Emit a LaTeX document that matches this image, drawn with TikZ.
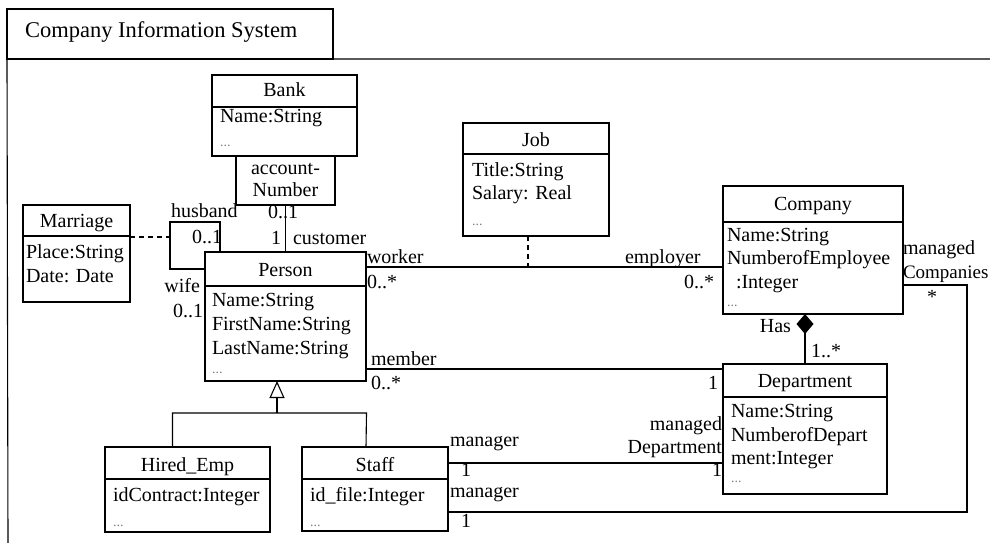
\documentclass[tikz,border=0pt]{standalone}
\usepackage{fontspec}
\setmainfont{Liberation Serif}
\usetikzlibrary{arrows.meta}
\begin{document}
\begin{tikzpicture}[x=1pt,y=-1pt, line width=1.1pt,
  font=\fontsize{20}{24}\selectfont,
  box/.style={draw, anchor=north west, inner sep=0pt, outer sep=0pt},
  txt/.style={inner sep=0pt, outer sep=0pt},
  dots/.style={inner sep=0pt, outer sep=0pt, text=gray, anchor=base west, font=\fontsize{14}{14}\selectfont},
  qual/.style={dashed, dash pattern=on 5pt off 4pt}]
\useasboundingbox (0,0) rectangle (990,543);

% frame
\node[box, minimum width=326pt, minimum height=50pt] (tab) at (7,9) {};
\node[txt, anchor=mid west, font=\fontsize{22.5}{24}\selectfont] (tabtext) at (25,35) {Company Information System};
\coordinate (frameR) at (990,59);
\coordinate (frameB) at (8,543);
\draw (frameB) -- (tab.south west) -- (frameR);

% Bank
\node[box, minimum width=145pt, minimum height=81pt] (bank) at (212,75) {};
\draw ([yshift=-32pt]bank.north west) -- ([yshift=-32pt]bank.north east);
\node[txt, anchor=mid] (bankT) at (284.5,94) {Bank};
\node[txt, anchor=mid west] (bankA) at (220,120) {Name:String};
\node[dots] (bankD) at (220,146) {...};
\node[box, minimum width=99pt, minimum height=49pt] (acct) at (236,156) {};
\node[txt, anchor=mid] (acct1) at (285.5,172) {account-};
\node[txt, anchor=mid] (acct2) at (285.5,194) {Number};

% Marriage
\node[box, minimum width=107pt, minimum height=97pt] (marriage) at (23,205) {};
\draw ([yshift=-31pt]marriage.north west) -- ([yshift=-31pt]marriage.north east);
\node[txt, anchor=mid] (marT) at (76.5,225) {Marriage};
\node[txt, anchor=mid west] (marA1) at (26,256) {Place:String};
\node[txt, anchor=mid west] (marA2) at (26,280) {Date: Date};

% Job
\node[box, minimum width=146pt, minimum height=113pt] (job) at (463,123) {};
\draw ([yshift=-31pt]job.north west) -- ([yshift=-31pt]job.north east);
\node[txt, anchor=mid] (jobT) at (536,144) {Job};
\node[txt, anchor=mid west] (jobA1) at (472,174) {Title:String};
\node[txt, anchor=mid west] (jobA2) at (472,197) {Salary: Real};
\node[dots] (jobD) at (472,225) {...};

% Company
\node[box, minimum width=180pt, minimum height=128pt] (company) at (723,186) {};
\draw ([yshift=-36pt]company.north west) -- ([yshift=-36pt]company.north east);
\node[txt, anchor=mid] (compT) at (813,208) {Company};
\node[txt, anchor=mid west] (compA1) at (727,239) {Name:String};
\node[txt, anchor=mid west] (compA2) at (727,262) {NumberofEmployee};
\node[txt, anchor=mid west] (compA3) at (736,286) {:Integer};
\node[dots] (compD) at (727,306) {...};

% Person
\node[box, minimum width=161pt, minimum height=129pt] (person) at (205,252) {};
\draw ([yshift=-34pt]person.north west) -- ([yshift=-34pt]person.north east);
\node[txt, anchor=mid] (persT) at (285.5,274) {Person};
\node[txt, anchor=mid west] (persA1) at (212,304) {Name:String};
\node[txt, anchor=mid west] (persA2) at (212,328) {FirstName:String};
\node[txt, anchor=mid west] (persA3) at (212,352) {LastName:String};
\node[dots] (persD) at (212,373) {...};

% Department
\node[box, minimum width=164pt, minimum height=130pt] (dept) at (723,364) {};
\draw ([yshift=-33pt]dept.north west) -- ([yshift=-33pt]dept.north east);
\node[txt, anchor=mid] (deptT) at (805,385) {Department};
\node[txt, anchor=mid west] (deptA1) at (731,415) {Name:String};
\node[txt, anchor=mid west] (deptA2) at (731,439) {NumberofDepart};
\node[txt, anchor=mid west] (deptA3) at (731,462) {ment:Integer};
\node[dots] (deptD) at (731,482) {...};

% Hired_Emp
\node[box, minimum width=165pt, minimum height=85pt] (hired) at (105,447) {};
\draw ([yshift=-32pt]hired.north west) -- ([yshift=-32pt]hired.north east);
\node[txt, anchor=mid] (hiredT) at (187.5,469) {Hired\_Emp};
\node[txt, anchor=mid west] (hiredA) at (113,499) {idContract:Integer};
\node[dots] (hiredD) at (113,526) {...};

% Staff
\node[box, minimum width=146pt, minimum height=84pt] (staff) at (302,447) {};
\draw ([yshift=-32pt]staff.north west) -- ([yshift=-32pt]staff.north east);
\node[txt, anchor=mid] (staffT) at (375,469) {Staff};
\node[txt, anchor=mid west] (staffA) at (310,499) {id\_file:Integer};
\node[dots] (staffD) at (310,526) {...};

% Bank -- Person
\draw (acct.south) -- (person.north);
\node[txt, anchor=mid] (bq1) at (283,216) {0..1};
\node[txt, anchor=mid] (bq2) at (276,242) {1};
\node[txt, anchor=mid west] (bq3) at (293,242) {customer};

% Marriage loop on Person
\draw ([xshift=15pt]person.north west) -- ++(0,-30) -- ++(-50,0) coordinate (loopl) -- ++(0,47) -- ([yshift=-17pt]person.north west);
\draw[qual] ([yshift=-32pt]marriage.north east) -- ([yshift=-15pt]loopl);
\node[txt, anchor=mid west] (lhus) at (171,215) {husband};
\node[txt, anchor=mid east] (lhus2) at (222,241) {0..1};
\node[txt, anchor=mid east] (lwife) at (200,290) {wife};
\node[txt, anchor=mid east] (lwife2) at (203,315) {0..1};

% Person -- Company
\draw ([yshift=-15pt]person.north east) -- ([yshift=-81pt]company.north west);
\draw[qual] ([xshift=-8pt]job.south) -- ++(0,31);
\node[txt, anchor=mid west] (lwork) at (367,261) {worker};
\node[txt, anchor=mid west] (lwork2) at (367,286) {0..*};
\node[txt, anchor=mid west] (lemp) at (625,261) {employer};
\node[txt, anchor=mid east] (lemp2) at (714,286) {0..*};

% Person -- Department
\draw ([yshift=-117pt]person.north east) -- ([yshift=-5pt]dept.north west);
\node[txt, anchor=mid west] (lmem) at (371,363) {member};
\node[txt, anchor=mid west] (lmem2) at (371,387) {0..*};
\node[txt, anchor=mid east] (lmem3) at (718,387) {1};

% Company -- Department (composition)
\draw[{Diamond[length=20pt,width=17pt,fill=black]}-] ([xshift=-8pt]company.south) -- (dept.north);
\node[txt, anchor=mid east] (lhas) at (791,330) {Has};
\node[txt, anchor=mid west] (lhas2) at (811,355) {1..*};

% Staff -- Department
\draw ([yshift=-16pt]staff.north east) -- ([yshift=-99pt]dept.north west);
\node[txt, anchor=mid west] (lman1) at (450,444) {manager};
\node[txt, anchor=mid west] (lman1b) at (461,474) {1};
\node[txt, anchor=mid east] (lmd1) at (722,428) {managed};
\node[txt, anchor=mid east] (lmd2) at (722,451) {Department};
\node[txt, anchor=mid east] (lmd3) at (722,474) {1};

% Staff -- Company
\coordinate (mgcorner) at (967,512);
\draw ([yshift=-99pt]company.north east) -| (mgcorner) -- ([yshift=-65pt]staff.north east);
\node[txt, anchor=mid west] (lmc1) at (903,252) {managed};
\node[txt, anchor=mid west, font=\fontsize{19}{24}\selectfont] (lmc2) at (903,276) {Companies};
\node[txt, anchor=mid] (lmc3) at (932,301) {*};
\node[txt, anchor=mid west] (lman2) at (450,495) {manager};
\node[txt, anchor=mid west] (lman2b) at (461,525) {1};

% generalization
\draw ([xshift=-15pt]hired.north) -- ++(0,-34) -- ++(194,0) -- ([xshift=-9pt]staff.north);
\draw[-{Triangle[open,length=17pt,width=15pt]}] ([xshift=-8.5pt,yshift=-32pt]person.south) -- ([xshift=-8.5pt]person.south);
\end{tikzpicture}
\end{document}
